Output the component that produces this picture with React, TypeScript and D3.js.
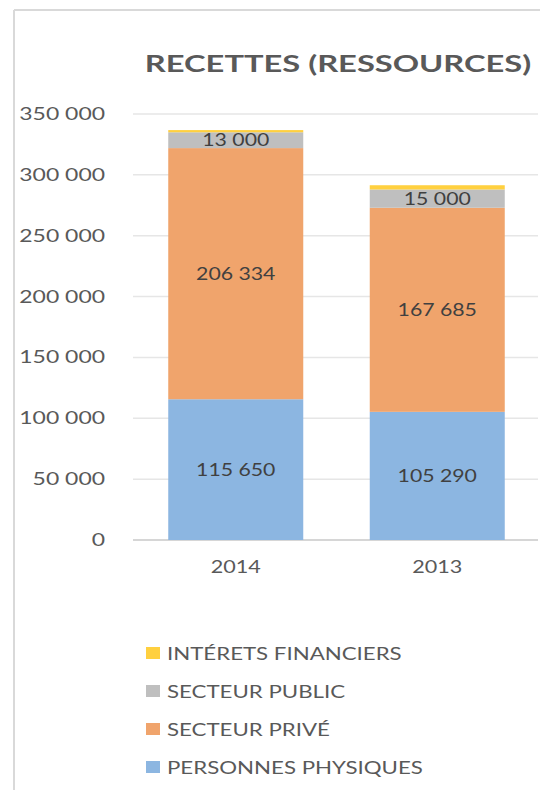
import React from "react";
import * as d3 from "d3";

const years = ["2014", "2013"];
const seriesNames = ["PERSONNES PHYSIQUES", "SECTEUR PRIVÉ", "SECTEUR PUBLIC", "INTÉRETS FINANCIERS"];
const personnesPhysiques = [115650, 105290];
const secteurPrive = [206334, 167685];
const secteurPublic = [13000, 15000];
const interetsFinanciers = [1800, 3500];
const showLabel = [true, true, true, false];
const yTicks = [0, 50000, 100000, 150000, 200000, 250000, 300000, 350000];
const colors = ["#8CB6E1", "#F0A46C", "#BFBFBF", "#FFD03F"];
const legendOrder = [3, 2, 1, 0];

const fmt = (v: number) => {
  const s = String(v);
  return s.replace(/\B(?=(\d{3})+(?!\d))/g, " ");
};

export default function App() {
  const W = 540, H = 790;
  const x = d3.scaleBand<string>().domain(years).range([135, 538]).paddingInner(0.33).paddingOuter(0.165);
  const y = d3.scaleLinear().domain([0, 350000]).range([540, 114]);
  const rows = years.map((yr, i) => ({
    year: yr,
    s0: personnesPhysiques[i],
    s1: secteurPrive[i],
    s2: secteurPublic[i],
    s3: interetsFinanciers[i],
  }));
  const stack = d3.stack<any>().keys(["s0", "s1", "s2", "s3"]);
  const layers = stack(rows);
  const font = "Lato, 'Open Sans', sans-serif";
  const T = (props: any) => {
    const { x: tx, y: ty, sx, children, ...rest } = props;
    return (
      <g transform={`translate(${tx},${ty}) scale(${sx},1)`}>
        <text fontFamily={font} {...rest}>{children}</text>
      </g>
    );
  };
  return (
    <svg width={W} height={H} style={{ display: "block", position: "absolute", left: 0, top: 0 }}>
      <rect x={0} y={0} width={W} height={H} fill="#fff" />
      <line x1={14} y1={10} x2={14} y2={H} stroke="#d9d9d9" strokeWidth={2} />
      <line x1={14} y1={10} x2={W} y2={10} stroke="#d9d9d9" strokeWidth={2} />
      <T x={338} y={72} sx={1.42} textAnchor="middle" fontSize={23} fontWeight="bold" fill="#595959">
        RECETTES (RESSOURCES)
      </T>
      {yTicks.map((t) => (
        <g key={t}>
          <line x1={133} x2={538} y1={y(t)} y2={y(t)} stroke={t === 0 ? "#c8c8c8" : "#e6e6e6"} strokeWidth={1.5} />
          <T x={105} y={y(t) + 6} sx={1.35} textAnchor="end" fontSize={17} fill="#595959">
            {fmt(t)}
          </T>
        </g>
      ))}
      {layers.map((layer, li) => (
        <g key={li}>
          {layer.map((d, i) => (
            <rect
              key={i}
              x={x(years[i])!}
              width={x.bandwidth()}
              y={y(d[1])}
              height={y(d[0]) - y(d[1])}
              fill={colors[li]}
            />
          ))}
        </g>
      ))}
      {layers.map((layer, li) =>
        showLabel[li]
          ? layer.map((d, i) => (
              <T
                key={`${li}-${i}`}
                x={x(years[i])! + x.bandwidth() / 2}
                y={(y(d[0]) + y(d[1])) / 2 + 6}
                sx={1.25}
                textAnchor="middle"
                fontSize={17}
                fill="#404040"
              >
                {fmt(d[1] - d[0])}
              </T>
            ))
          : null
      )}
      {years.map((yr) => (
        <T key={yr} x={x(yr)! + x.bandwidth() / 2} y={573} sx={1.27} textAnchor="middle" fontSize={17} fill="#595959">
          {yr}
        </T>
      ))}
      {legendOrder.map((si, k) => {
        const ly = 653 + k * 38;
        return (
          <g key={si}>
            <rect x={146} y={ly - 6} width={14} height={12} fill={colors[si]} />
            <T x={167} y={ly + 6.5} sx={1.31} fontSize={17} fill="#595959">
              {seriesNames[si]}
            </T>
          </g>
        );
      })}
    </svg>
  );
}
